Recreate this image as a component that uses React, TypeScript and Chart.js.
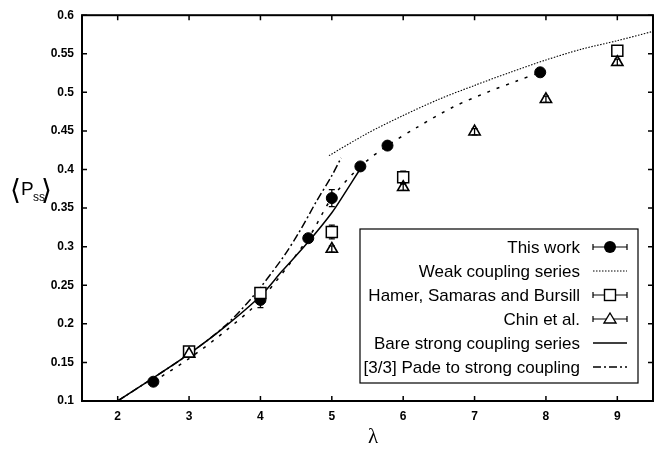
import React, { useEffect, useRef } from 'react';
import { Chart, registerables } from 'chart.js';

Chart.register(...registerables);

// Axis ticks
const xTicks = [2, 3, 4, 5, 6, 7, 8, 9];
const xTickLabels = ['2', '3', '4', '5', '6', '7', '8', '9'];
const yTicks = [0.1, 0.15, 0.2, 0.25, 0.3, 0.35, 0.4, 0.45, 0.5, 0.55, 0.6];
const yTickLabels = ['0.1', '0.15', '0.2', '0.25', '0.3', '0.35', '0.4', '0.45', '0.5', '0.55', '0.6'];

// This work (filled circles)
const thisWorkX = [2.5, 4.0, 4.67, 5.0, 5.4, 5.78, 7.92];
const thisWorkY = [0.125, 0.231, 0.311, 0.363, 0.404, 0.431, 0.526];
const thisWorkErr = [0.003, 0.01, 0.004, 0.011, 0.003, 0.003, 0.003];

// Curve through this work's estimates
const thisWorkFitX = [2.5, 3.0, 3.5, 4.0, 4.67, 5.0, 5.4, 5.78, 6.2, 6.7, 7.2, 7.6, 7.92];
const thisWorkFitY = [0.125, 0.155, 0.19, 0.231, 0.311, 0.363, 0.404, 0.431, 0.455, 0.481, 0.501, 0.515, 0.526];

// Weak coupling series
const weakX = [4.96, 5.5, 6.0, 6.5, 7.0, 7.5, 8.0, 8.5, 9.0, 9.5];
const weakY = [0.418, 0.447, 0.47, 0.491, 0.509, 0.526, 0.542, 0.556, 0.567, 0.579];

// Hamer, Samaras and Bursill (open squares)
const hamerX = [3, 4, 5, 6, 9];
const hamerY = [0.164, 0.24, 0.319, 0.39, 0.554];
const hamerErr = [0.003, 0.003, 0.009, 0.008, 0.003];

// Chin et al. (open triangles)
const chinX = [3, 5, 6, 7, 8, 9];
const chinY = [0.161, 0.297, 0.377, 0.449, 0.491, 0.539];
const chinErr = [0.004, 0.004, 0.004, 0.004, 0.004, 0.004];

// Bare strong coupling series
const bareX = [2.0, 2.5, 3.0, 3.5, 4.0, 4.3, 4.65, 5.0, 5.2, 5.4];
const bareY = [0.1, 0.13, 0.161, 0.196, 0.236, 0.268, 0.304, 0.344, 0.372, 0.401];

// [3/3] Pade to strong coupling
const padeX = [2.0, 2.5, 3.0, 3.5, 3.9, 4.3, 4.55, 4.78, 5.0, 5.13];
const padeY = [0.1, 0.13, 0.161, 0.197, 0.236, 0.284, 0.32, 0.358, 0.392, 0.415];

const legendLabels = [
  'This work',
  'Weak coupling series',
  'Hamer, Samaras and Bursill',
  'Chin et al.',
  'Bare strong coupling series',
  '[3/3] Pade to strong coupling',
];

const pts = (xs: number[], ys: number[]) => xs.map((x, i) => ({ x, y: ys[i] }));

const SANS = '"Liberation Sans", Arial, Helvetica, sans-serif';

const errorBarPlugin = {
  id: 'errorBars',
  beforeDatasetsDraw(chart: any) {
    const { ctx, scales } = chart;
    const ys = scales.y;
    const xs = scales.x;
    ctx.save();
    ctx.strokeStyle = '#000';
    ctx.lineWidth = 1.3;
    chart.data.datasets.forEach((ds: any) => {
      if (!ds.errors) return;
      ds.data.forEach((p: any, i: number) => {
        const e = ds.errors[i];
        const px = xs.getPixelForValue(p.x);
        const top = ys.getPixelForValue(p.y + e);
        const bot = ys.getPixelForValue(p.y - e);
        ctx.beginPath();
        ctx.moveTo(px, top);
        ctx.lineTo(px, bot);
        ctx.moveTo(px - 3, top);
        ctx.lineTo(px + 3, top);
        ctx.moveTo(px - 3, bot);
        ctx.lineTo(px + 3, bot);
        ctx.stroke();
      });
    });
    ctx.restore();
  },
};

const decorPlugin = {
  id: 'decor',
  afterDraw(chart: any) {
    const { ctx, chartArea: a, scales } = chart;
    ctx.save();
    // frame
    ctx.strokeStyle = '#000';
    ctx.lineWidth = 2;
    ctx.strokeRect(a.left, a.top, a.right - a.left, a.bottom - a.top);
    // inward ticks on all four sides
    ctx.lineWidth = 1.5;
    ctx.beginPath();
    xTicks.forEach((v) => {
      const px = scales.x.getPixelForValue(v);
      ctx.moveTo(px, a.bottom);
      ctx.lineTo(px, a.bottom - 5);
      ctx.moveTo(px, a.top);
      ctx.lineTo(px, a.top + 5);
    });
    yTicks.forEach((v) => {
      const py = scales.y.getPixelForValue(v);
      ctx.moveTo(a.left, py);
      ctx.lineTo(a.left + 5, py);
      ctx.moveTo(a.right, py);
      ctx.lineTo(a.right - 5, py);
    });
    ctx.stroke();

    // axis titles
    ctx.fillStyle = '#000';
    ctx.textBaseline = 'alphabetic';
    ctx.textAlign = 'center';
    ctx.font = '21px "Liberation Serif", "DejaVu Serif", serif';
    ctx.fillText('λ', 373, 443);

    ctx.textAlign = 'left';
    ctx.font = '28px "DejaVu Sans", sans-serif';
    ctx.fillText('⟨', 10, 199);
    ctx.font = '19px ' + SANS;
    ctx.fillText('P', 21, 195);
    ctx.font = '12px ' + SANS;
    ctx.fillText('ss', 33, 201);
    ctx.font = '28px "DejaVu Sans", sans-serif';
    ctx.fillText('⟩', 41, 199);

    // legend
    const lx0 = 360, ly0 = 229, lx1 = 638, ly1 = 383;
    ctx.fillStyle = '#fff';
    ctx.fillRect(lx0, ly0, lx1 - lx0, ly1 - ly0);
    ctx.strokeStyle = '#000';
    ctx.lineWidth = 1.2;
    ctx.strokeRect(lx0, ly0, lx1 - lx0, ly1 - ly0);

    const rowY = (i: number) => 247 + i * 24;
    const textRight = 580;
    const s0 = 593, s1 = 627, sc = 610;
    ctx.font = '17px ' + SANS;
    ctx.textAlign = 'right';
    ctx.textBaseline = 'middle';
    ctx.fillStyle = '#000';
    legendLabels.forEach((t, i) => ctx.fillText(t, textRight, rowY(i) + 1));

    const capLine = (y: number) => {
      ctx.setLineDash([]);
      ctx.lineWidth = 1.2;
      ctx.beginPath();
      ctx.moveTo(s0, y);
      ctx.lineTo(s1, y);
      ctx.moveTo(s0, y - 3);
      ctx.lineTo(s0, y + 3);
      ctx.moveTo(s1, y - 3);
      ctx.lineTo(s1, y + 3);
      ctx.stroke();
    };
    const plainLine = (y: number, dash: number[], w: number) => {
      ctx.setLineDash(dash);
      ctx.lineWidth = w;
      ctx.beginPath();
      ctx.moveTo(s0, y);
      ctx.lineTo(s1, y);
      ctx.stroke();
      ctx.setLineDash([]);
    };
    // This work
    let y = rowY(0);
    capLine(y);
    ctx.beginPath();
    ctx.arc(sc, y, 6, 0, Math.PI * 2);
    ctx.fillStyle = '#000';
    ctx.fill();
    // Weak coupling
    plainLine(rowY(1), [1.5, 1.5], 1);
    // Hamer
    y = rowY(2);
    capLine(y);
    ctx.fillStyle = '#fff';
    ctx.fillRect(sc - 5.5, y - 5.5, 11, 11);
    ctx.lineWidth = 1.4;
    ctx.strokeRect(sc - 5.5, y - 5.5, 11, 11);
    // Chin
    y = rowY(3);
    capLine(y);
    ctx.beginPath();
    ctx.moveTo(sc, y - 6);
    ctx.lineTo(sc + 6, y + 4);
    ctx.lineTo(sc - 6, y + 4);
    ctx.closePath();
    ctx.fillStyle = '#fff';
    ctx.fill();
    ctx.lineWidth = 1.4;
    ctx.stroke();
    // Bare strong coupling
    plainLine(rowY(4), [], 1.6);
    // Pade
    plainLine(rowY(5), [8, 3, 2, 3], 1.6);

    ctx.restore();
  },
};

export default function App() {
  const canvasRef = useRef<HTMLCanvasElement | null>(null);

  useEffect(() => {
    document.body.style.margin = '0';
    const canvas = canvasRef.current;
    if (!canvas) return;

    const chart = new Chart(canvas, {
      type: 'scatter',
      data: {
        datasets: [
          {
            label: 'Chin et al.',
            data: pts(chinX, chinY),
            errors: chinErr,
            pointStyle: 'triangle',
            pointRadius: 6.5,
            pointBorderWidth: 1.6,
            borderColor: '#000',
            backgroundColor: 'rgba(0,0,0,0)',
            showLine: false,
          } as any,
          {
            label: 'Hamer, Samaras and Bursill',
            data: pts(hamerX, hamerY),
            errors: hamerErr,
            pointStyle: 'rect',
            pointRadius: 7.8,
            pointBorderWidth: 1.5,
            borderColor: '#000',
            backgroundColor: '#fff',
            showLine: false,
          } as any,
          {
            label: 'This work',
            data: pts(thisWorkX, thisWorkY),
            errors: thisWorkErr,
            pointStyle: 'circle',
            pointRadius: 5.5,
            pointBorderWidth: 1,
            borderColor: '#000',
            backgroundColor: '#000',
            showLine: false,
          } as any,
          {
            label: 'Weak coupling series',
            data: pts(weakX, weakY),
            showLine: true,
            borderColor: '#000',
            borderWidth: 1.1,
            borderDash: [1.5, 1.5],
            pointRadius: 0,
            tension: 0.3,
          },
          {
            label: 'This work curve',
            data: pts(thisWorkFitX, thisWorkFitY),
            showLine: true,
            borderColor: '#000',
            borderWidth: 1.5,
            borderDash: [3, 7],
            pointRadius: 0,
            tension: 0.3,
          },
          {
            label: 'Bare strong coupling series',
            data: pts(bareX, bareY),
            showLine: true,
            borderColor: '#000',
            borderWidth: 1.5,
            pointRadius: 0,
            tension: 0.3,
          },
          {
            label: '[3/3] Pade to strong coupling',
            data: pts(padeX, padeY),
            showLine: true,
            borderColor: '#000',
            borderWidth: 1.5,
            borderDash: [8, 3, 2, 3],
            pointRadius: 0,
            tension: 0.3,
          },
        ],
      },
      options: {
        animation: false,
        responsive: false,
        devicePixelRatio: 1,
        layout: { padding: { left: 0, right: 19, top: 7, bottom: 0 } },
        plugins: {
          legend: { display: false },
          tooltip: { enabled: false },
        },
        scales: {
          x: {
            type: 'linear',
            min: 1.5,
            max: 9.5,
            grid: { display: false, drawTicks: false },
            border: { display: false },
            afterBuildTicks: (s: any) => {
              s.ticks = xTicks.map((v) => ({ value: v }));
            },
            afterFit: (s: any) => {
              s.height = 48;
            },
            ticks: {
              color: '#000',
              padding: 8,
              maxRotation: 0,
              font: { family: SANS, size: 12, weight: 'bold' },
              callback: (v: any) => {
                const i = xTicks.indexOf(Number(v));
                return i >= 0 ? xTickLabels[i] : '';
              },
            },
          },
          y: {
            type: 'linear',
            min: 0.1,
            max: 0.6,
            grid: { display: false, drawTicks: false },
            border: { display: false },
            afterBuildTicks: (s: any) => {
              s.ticks = yTicks.map((v) => ({ value: v }));
            },
            afterFit: (s: any) => {
              s.width = 82;
            },
            ticks: {
              color: '#000',
              padding: 8,
              font: { family: SANS, size: 12, weight: 'bold' },
              callback: (v: any) => {
                const i = yTicks.findIndex((t) => Math.abs(t - Number(v)) < 1e-9);
                return i >= 0 ? yTickLabels[i] : '';
              },
            },
          },
        },
      },
      plugins: [errorBarPlugin, decorPlugin],
    } as any);

    return () => chart.destroy();
  }, []);

  return (
    <div style={{ position: 'absolute', left: 0, top: 0, width: 672, height: 449, background: '#fff' }}>
      <canvas ref={canvasRef} width={672} height={449} />
    </div>
  );
}
